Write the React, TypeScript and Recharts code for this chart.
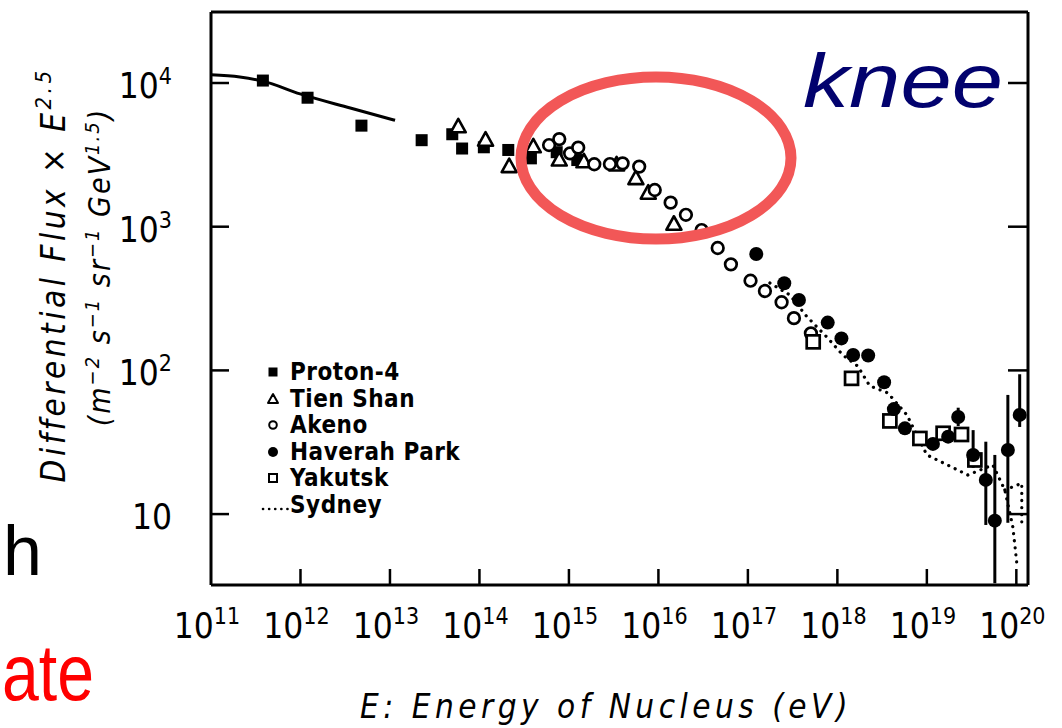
import React from "react";
import { ComposedChart, XAxis, YAxis, Scatter, Line, ErrorBar, Legend } from "recharts";

// energy (eV) and differential flux × E^2.5 for each experiment
const protonE = [3.8e11, 1.2e12, 4.8e12, 2.26e13, 4.97e13, 6.4e13, 1.12e14, 2.1e14, 3.76e14, 7.3e14, 1.24e15];
const protonF = [1.04e4, 7.9e3, 5.05e3, 4.0e3, 4.4e3, 3.5e3, 3.57e3, 3.42e3, 2.99e3, 3.3e3, 2.91e3];

// smooth fit drawn through the low-energy Proton-4 points
const protonFitE = [1e11, 2.1e11, 3.8e11, 9.9e11, 3.6e12, 1.14e13];
const protonFitF = [1.14e4, 1.1e4, 1.03e4, 8.4e3, 6.7e3, 5.5e3];

const tienE = [5.8e13, 1.17e14, 2.15e14, 4.0e14, 7.8e14, 1.47e15, 3.41e15, 5.6e15, 7.7e15, 1.49e16];
const tienF = [4.96e3, 4.0e3, 2.62e3, 3.6e3, 2.91e3, 2.83e3, 2.69e3, 2.16e3, 1.71e3, 1.04e3];

const akenoE = [
  6.0e14, 7.8e14, 1.03e15, 1.27e15, 1.92e15, 2.87e15, 3.98e15, 6.1e15, 9.1e15, 1.37e16,
  2.03e16, 3.04e16, 4.6e16, 6.46e16, 1.07e17, 1.55e17, 2.38e17, 3.27e17, 5.06e17,
];
const akenoF = [
  3.7e3, 4.07e3, 3.24e3, 3.55e3, 2.72e3, 2.73e3, 2.76e3, 2.62e3, 1.8e3, 1.47e3,
  1.21e3, 948, 711, 547, 421, 357, 298, 231, 181,
];

const haverahE = [
  1.24e17, 2.55e17, 3.72e17, 7.8e17, 1.11e18, 1.5e18, 2.21e18, 3.33e18, 4.28e18, 5.68e18,
  1.17e19, 1.73e19, 2.24e19, 3.29e19, 4.56e19, 5.75e19, 8.04e19, 1.09e20,
];
const haverahF = [646, 404, 309, 215, 167, 128, 127, 82.6, 53.8, 39.5, 30.8, 34.6, 47.4, 25.8, 17.3, 9.0, 27.9, 49];
// error bar ends (0 = no bar)
const haverahLo = [0, 0, 0, 0, 0, 0, 0, 0, 0, 0, 0, 0, 41, 21, 8.4, 3.3, 8.7, 40.4];
const haverahHi = [0, 0, 0, 0, 0, 0, 0, 0, 0, 0, 0, 0, 55, 38.4, 31.9, 25.8, 67.5, 94];

const yakutskE = [5.37e17, 1.44e18, 3.86e18, 8.36e18, 1.52e19, 2.44e19, 3.44e19];
const yakutskF = [158, 88, 44.5, 33.6, 36.5, 35.8, 23.8];

const sydneyE = [
  1.76e17, 2.94e17, 4.5e17, 7.8e17, 1.15e18, 1.69e18, 2.3e18, 3.66e18, 5.98e18, 1e19,
  1.8e19, 2.87e19, 5.46e19, 7.44e19, 9.15e19, 1.01e20,
];
const sydneyF = [406, 335, 239, 168, 128, 107, 78, 69.7, 49, 25.8, 21.6, 18.7, 22, 14.7, 8.1, 4.6];
const sydneyTailE = [7.44e19, 1.15e20, 1.15e20];
const sydneyTailF = [14.7, 16.4, 8.1];

const xTicks = [1e11, 1e12, 1e13, 1e14, 1e15, 1e16, 1e17, 1e18, 1e19, 1e20];
const yTicks = [10, 100, 1000, 10000];

const legendRows = [
  { name: "Proton-4", mark: "fsq" },
  { name: "Tien Shan", mark: "tri" },
  { name: "Akeno", mark: "oc" },
  { name: "Haverah Park", mark: "fc" },
  { name: "Yakutsk", mark: "osq" },
  { name: "Sydney", mark: "dots" },
];

const FONT = "'DejaVu Sans Condensed', 'DejaVu Sans', sans-serif";

const pts = (es: number[], fs: number[]) => es.map((e, i) => ({ e, f: fs[i] }));

const haverahPts = haverahE.map((e, i) => ({
  e,
  f: haverahF[i],
  err: haverahLo[i] ? [haverahF[i] - haverahLo[i], haverahHi[i] - haverahF[i]] : [0, 0],
}));

// marker shapes
const FilledSquare = (p: any) =>
  p.cx == null ? null : <rect x={p.cx - 6} y={p.cy - 6} width={12} height={12} fill="#000" />;
const OpenTriangle = (p: any) =>
  p.cx == null ? null : (
    <polygon
      points={`${p.cx},${p.cy - 8} ${p.cx - 7.5},${p.cy + 5.5} ${p.cx + 7.5},${p.cy + 5.5}`}
      fill="#fff"
      stroke="#000"
      strokeWidth={2.6}
      strokeLinejoin="round"
    />
  );
const OpenCircle = (p: any) =>
  p.cx == null ? null : <circle cx={p.cx} cy={p.cy} r={5.8} fill="#fff" stroke="#000" strokeWidth={2.7} />;
const FilledCircle = (p: any) =>
  p.cx == null ? null : <circle cx={p.cx} cy={p.cy} r={7} fill="#000" />;
const OpenSquare = (p: any) =>
  p.cx == null ? null : (
    <rect x={p.cx - 6.5} y={p.cy - 6.5} width={13} height={13} fill="#fff" stroke="#000" strokeWidth={2.7} />
  );

const LegendMark = ({ mark }: { mark: string }) => {
  const c = 15;
  const m = 13;
  switch (mark) {
    case "fsq":
      return <rect x={c - 4.5} y={m - 4.5} width={9} height={9} fill="#000" />;
    case "tri":
      return (
        <polygon
          points={`${c},${m - 5} ${c - 5},${m + 4} ${c + 5},${m + 4}`}
          fill="#fff"
          stroke="#000"
          strokeWidth={2}
          strokeLinejoin="round"
        />
      );
    case "oc":
      return <circle cx={c} cy={m} r={3.8} fill="#fff" stroke="#000" strokeWidth={2} />;
    case "fc":
      return <circle cx={c} cy={m} r={5} fill="#000" />;
    case "osq":
      return <rect x={c - 4} y={m - 4} width={8} height={8} fill="#fff" stroke="#000" strokeWidth={2} />;
    default:
      return (
        <line x1={5} x2={30} y1={m + 4} y2={m + 4} stroke="#000" strokeWidth={2.6} strokeDasharray="0.1 6" strokeLinecap="round" />
      );
  }
};

const LegendBox = () => (
  <div style={{ fontFamily: FONT, fontSize: 24, fontWeight: 700, color: "#000", lineHeight: "26.5px" }}>
    {legendRows.map((r) => (
      <div key={r.name} style={{ display: "flex", alignItems: "center", height: 26.5 }}>
        <svg width={32} height={26} style={{ flex: "none" }}>
          <LegendMark mark={r.mark} />
        </svg>
        <span style={{ whiteSpace: "nowrap", letterSpacing: 0.5 }}>{r.name}</span>
      </div>
    ))}
  </div>
);

const XTick = (props: any) => {
  const { x, y, payload } = props;
  const exp = Math.round(Math.log10(payload.value));
  return (
    <g>
      {exp > 11 && <line x1={x} x2={x} y1={y} y2={y - 16} stroke="#000" strokeWidth={2.5} />}
      <text x={x - 4} y={y + 53} textAnchor="middle" fontFamily={FONT} fontSize={35} fill="#000">
        10
        <tspan dy={-14} fontSize={23}>
          {exp}
        </tspan>
      </text>
    </g>
  );
};

const TopTick = (props: any) => {
  const { x, y, payload } = props;
  if (payload.value <= 1e11) return null;
  return <line x1={x} x2={x} y1={y} y2={y + 15} stroke="#000" strokeWidth={2.5} />;
};

const YTick = (props: any) => {
  const { x, y, payload } = props;
  const exp = Math.round(Math.log10(payload.value));
  return (
    <g>
      <line x1={x} x2={x + 18} y1={y} y2={y} stroke="#000" strokeWidth={2.5} />
      <text x={x - 39} y={y + 15} textAnchor="end" fontFamily={FONT} fontSize={35} fill="#000">
        10
        {exp > 1 && (
          <tspan dy={-14} fontSize={23}>
            {exp}
          </tspan>
        )}
      </text>
    </g>
  );
};

const RightTick = (props: any) => {
  const { x, y } = props;
  return <line x1={x} x2={x - 20} y1={y} y2={y} stroke="#000" strokeWidth={2.5} />;
};

const axisLine = { stroke: "#000", strokeWidth: 3 };

export default function App() {
  return (
    <div style={{ position: "absolute", left: 0, top: 0, width: 1062, height: 728, background: "#fff", overflow: "hidden" }}>
      <ComposedChart width={1062} height={728} margin={{ top: 2, right: 24, bottom: 83, left: 111 }}>
        <XAxis
          dataKey="e"
          type="number"
          scale="log"
          domain={[1e11, 1.35e20]}
          ticks={xTicks}
          interval={0}
          allowDataOverflow
          height={60}
          tickSize={0}
          tickMargin={0}
          tickLine={false}
          axisLine={axisLine}
          tick={<XTick />}
        />
        <XAxis
          xAxisId="top"
          orientation="top"
          type="number"
          scale="log"
          domain={[1e11, 1.35e20]}
          ticks={xTicks}
          interval={0}
          allowDataOverflow
          height={10}
          tickSize={0}
          tickMargin={0}
          tickLine={false}
          axisLine={axisLine}
          tick={<TopTick />}
        />
        <YAxis
          dataKey="f"
          type="number"
          scale="log"
          domain={[3.21, 31200]}
          ticks={yTicks}
          interval={0}
          allowDataOverflow
          width={100}
          tickSize={0}
          tickMargin={0}
          tickLine={false}
          axisLine={axisLine}
          tick={<YTick />}
        />
        <YAxis
          yAxisId="right"
          orientation="right"
          type="number"
          scale="log"
          domain={[3.21, 31200]}
          ticks={yTicks}
          interval={0}
          allowDataOverflow
          width={10}
          tickSize={0}
          tickMargin={0}
          tickLine={false}
          axisLine={axisLine}
          tick={<RightTick />}
        />

        <Line
          data={pts(protonFitE, protonFitF)}
          dataKey="f"
          type="monotone"
          stroke="#000"
          strokeWidth={3}
          dot={false}
          legendType="none"
          isAnimationActive={false}
        />
        <Line
          data={pts(sydneyE, sydneyF)}
          dataKey="f"
          name="Sydney"
          type="linear"
          stroke="#000"
          strokeWidth={3.2}
          strokeDasharray="0.1 7"
          strokeLinecap="round"
          dot={false}
          isAnimationActive={false}
        />
        <Line
          data={pts(sydneyTailE, sydneyTailF)}
          dataKey="f"
          type="linear"
          stroke="#000"
          strokeWidth={3.2}
          strokeDasharray="0.1 7"
          strokeLinecap="round"
          dot={false}
          legendType="none"
          isAnimationActive={false}
        />

        <Scatter name="Proton-4" data={pts(protonE, protonF)} dataKey="f" shape={FilledSquare} isAnimationActive={false} />
        <Scatter name="Tien Shan" data={pts(tienE, tienF)} dataKey="f" shape={OpenTriangle} isAnimationActive={false} />
        <Scatter name="Akeno" data={pts(akenoE, akenoF)} dataKey="f" shape={OpenCircle} isAnimationActive={false} />
        <Scatter name="Yakutsk" data={pts(yakutskE, yakutskF)} dataKey="f" shape={OpenSquare} isAnimationActive={false} />
        <Scatter name="Haverah Park" data={haverahPts} dataKey="f" shape={FilledCircle} isAnimationActive={false}>
          <ErrorBar dataKey="err" direction="y" width={0} stroke="#000" strokeWidth={3} isAnimationActive={false} />
        </Scatter>

        <Legend
          content={() => <LegendBox />}
          layout="vertical"
          align="center"
          verticalAlign="middle"
          wrapperStyle={{ left: 258, top: 359, width: 240 }}
        />
      </ComposedChart>

      <svg
        width={1062}
        height={728}
        style={{ position: "absolute", left: 0, top: 0, pointerEvents: "none" }}
      >
        <ellipse cx={656} cy={158} rx={135} ry={81} fill="none" stroke="#f25757" strokeWidth={11} />
        <text
          x={803}
          y={107}
          fontFamily="'Liberation Sans', Arial, sans-serif"
          fontStyle="italic"
          fontSize={76}
          fill="#02026e"
          textLength={200}
          lengthAdjust="spacingAndGlyphs"
        >
          knee
        </text>
        <text x={3} y={575} fontFamily="'Liberation Sans', Arial, sans-serif" fontSize={70} fill="#000">
          h
        </text>
        <text
          x={2}
          y={700}
          fontFamily="'Liberation Sans', Arial, sans-serif"
          fontSize={80}
          fill="#ff0000"
          textLength={92}
          lengthAdjust="spacingAndGlyphs"
        >
          ate
        </text>

        <text
          transform="translate(65,275) rotate(-90)"
          textAnchor="middle"
          fontFamily={FONT}
          fontStyle="italic"
          fontSize={33}
          letterSpacing={3.5}
          fill="#000"
        >
          Differential Flux × E
          <tspan dy={-14} fontSize={22}>
            2.5
          </tspan>
        </text>
        <text
          transform="translate(110,267) rotate(-90)"
          textAnchor="middle"
          fontFamily={FONT}
          fontStyle="italic"
          fontSize={30}
          letterSpacing={2}
          fill="#000"
        >
          (m
          <tspan dy={-11} fontSize={20}>
            −2
          </tspan>
          <tspan dy={11}> s</tspan>
          <tspan dy={-11} fontSize={20}>
            −1
          </tspan>
          <tspan dy={11}> sr</tspan>
          <tspan dy={-11} fontSize={20}>
            −1
          </tspan>
          <tspan dy={11}> GeV</tspan>
          <tspan dy={-11} fontSize={20}>
            1.5
          </tspan>
          <tspan dy={11}>)</tspan>
        </text>

        <text
          x={606}
          y={718}
          textAnchor="middle"
          fontFamily={FONT}
          fontStyle="italic"
          fontSize={33}
          letterSpacing={4.5}
          fill="#000"
        >
          E: Energy of Nucleus (eV)
        </text>
      </svg>
    </div>
  );
}
